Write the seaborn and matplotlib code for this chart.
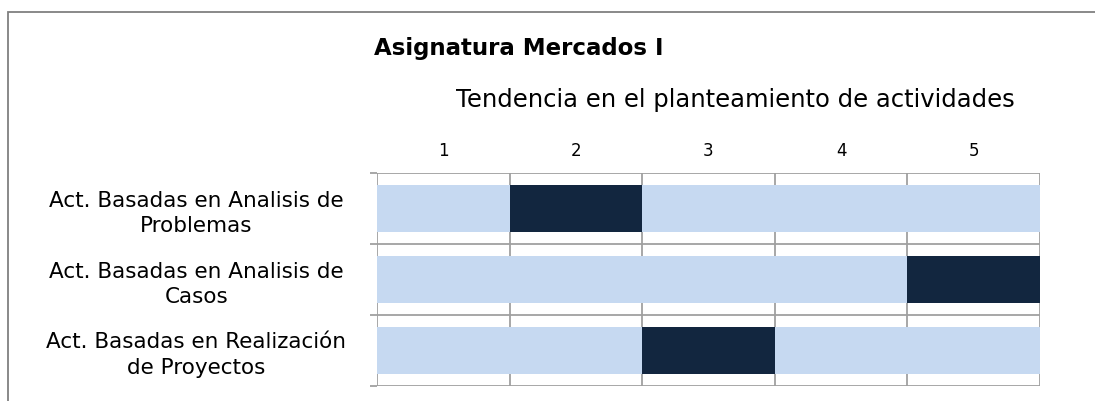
import matplotlib
matplotlib.use("Agg")
import matplotlib.pyplot as plt
import seaborn as sns
import pandas as pd
from matplotlib.patches import Rectangle

# -------------------------
# Data
# -------------------------
categories = [
    "Act. Basadas en Analisis de\nProblemas",
    "Act. Basadas en Analisis de\nCasos",
    "Act. Basadas en Realización\nde Proyectos",
]
scale_labels = ["1", "2", "3", "4", "5"]
selected = [2, 5, 3]  # column marked dark in each row

LIGHT = "#C6D9F1"
DARK = "#12263F"
GRID = "#A0A0A0"

sns.set_theme(style="white")
plt.rcParams["font.family"] = ["DejaVu Sans"]
plt.rcParams["text.color"] = "black"
plt.rcParams["xtick.color"] = "black"
plt.rcParams["ytick.color"] = "black"

fig = plt.figure(figsize=(10.95, 4.01), dpi=100)
ax = fig.add_axes([377 / 1095, 1 - 386 / 401, (1040 - 377) / 1095, (386 - 173) / 401])

# -------------------------
# Stacked bars drawn as overlapping cumulative bars
# -------------------------
n = len(scale_labels)
for k in range(n, 0, -1):
    df = pd.DataFrame({"cat": categories, "value": [k] * len(categories)})
    pal = [DARK if s == k else LIGHT for s in selected]
    sns.barplot(
        data=df, x="value", y="cat", hue="cat", palette=pal,
        orient="h", width=0.65, legend=False, ax=ax,
        linewidth=0, saturation=1,
    )

ax.set_xlim(0, n)
ax.set_ylim(len(categories) - 0.5, -0.5)

# grid lines at column / row boundaries
for x in range(0, n + 1):
    ax.axvline(x, color=GRID, lw=1.3, zorder=0)
for y in [-0.5 + i for i in range(len(categories) + 1)]:
    ax.axhline(y, color=GRID, lw=1.3, zorder=0)

ax.xaxis.tick_top()
ax.set_xticks([i + 0.5 for i in range(n)])
ax.set_xticklabels(scale_labels, fontsize=12)
ax.tick_params(axis="x", length=0, pad=9)
ax.set_xlabel("")
ax.set_ylabel("")

ax.set_yticks(range(len(categories)))
ax.set_yticklabels(categories, fontsize=15.5, ha="center", linespacing=1.35)
ax.tick_params(axis="y", length=0, pad=130)
ax.set_yticks([-0.5 + i for i in range(len(categories) + 1)], minor=True)
ax.tick_params(axis="y", which="minor", length=5, color=GRID, width=1.3, left=True)

for s in ax.spines.values():
    s.set_visible(False)

fig.text(374 / 1095, 1 - 49 / 401, "Asignatura Mercados I", fontsize=16.5,
         fontweight="bold", va="center", ha="left")
fig.text(456 / 1095, 1 - 100 / 401, "Tendencia en el planteamiento de actividades",
         fontsize=17.5, va="center", ha="left")

# outer frame
fig.patches.append(Rectangle((8 / 1095, -0.2), 1.2, 1 - 12 / 401 + 0.2,
                             transform=fig.transFigure, fill=False,
                             edgecolor="#808080", lw=1.3))

fig.savefig("out.png", dpi=100)
